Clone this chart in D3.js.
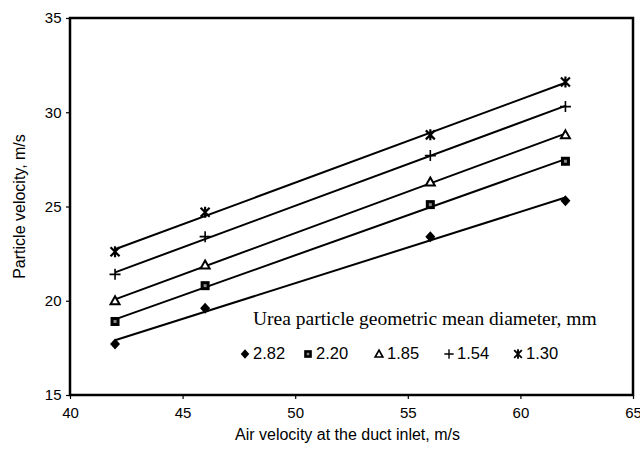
<!DOCTYPE html>
<html>
<head>
<meta charset="utf-8">
<script src="https://cdn.jsdelivr.net/npm/d3@7"></script>
<style>
  body { margin: 0; background: #fff; }
  text { font-family: "Liberation Sans", Arial, sans-serif; fill: #000; }
</style>
</head>
<body>
<div id="chart"></div>
<script>
// data
const airVelocity = [42, 46, 56, 62];
const diameters = ["2.82", "2.20", "1.85", "1.54", "1.30"];
const v282 = [17.7, 19.6, 23.4, 25.3];
const v220 = [18.9, 20.8, 25.1, 27.4];
const v185 = [20.0, 21.9, 26.3, 28.8];
const v154 = [21.4, 23.4, 27.7, 30.3];
const v130 = [22.6, 24.7, 28.8, 31.6];
const xTicks = [40, 45, 50, 55, 60, 65];
const yTicks = [15, 20, 25, 30, 35];

const seriesValues = [v282, v220, v185, v154, v130];
const markers = ["diamond", "square", "triangle", "plus", "star"];

const W = 640, H = 451;
const margin = { top: 18, right: 7, bottom: 56, left: 70 };
const width = W - margin.left - margin.right,
  height = H - margin.top - margin.bottom;

const svg = d3.select("#chart").append("svg")
  .attr("width", W).attr("height", H);
const g = svg.append("g")
  .attr("transform", "translate(" + margin.left + "," + margin.top + ")");

let x = d3.scaleLinear().domain([40, 65]).range([0, width]);
let y = d3.scaleLinear().domain([15, 35]).range([height, 0]);

// axes
g.append("g")
  .attr("transform", "translate(0," + height + ")")
  .call(d3.axisBottom(x).tickValues(xTicks).tickSize(4).tickSizeOuter(0))
  .call(a => a.select(".domain").remove())
  .selectAll("text").attr("dy", "1.05em").style("font-size", "15px");
g.append("g")
  .call(d3.axisLeft(y).tickValues(yTicks).tickSize(4).tickSizeOuter(0))
  .call(a => a.select(".domain").remove())
  .selectAll("text").attr("dx", "-0.1em").style("font-size", "15px");
g.selectAll(".tick line").attr("stroke-width", 1.2);

// frame
g.append("rect")
  .attr("width", width).attr("height", height)
  .attr("fill", "none").attr("stroke", "#000").attr("stroke-width", 2.5);

// linear trend lines (least squares through each series)
function fit(vals) {
  const mx = d3.mean(airVelocity), my = d3.mean(vals);
  let sxy = 0, sxx = 0;
  airVelocity.forEach((xv, i) => { sxy += (xv - mx) * (vals[i] - my); sxx += (xv - mx) * (xv - mx); });
  const b = sxy / sxx;
  return xv => my + b * (xv - mx);
}
const xEnds = d3.extent(airVelocity);
seriesValues.forEach(vals => {
  const f = fit(vals);
  g.append("line")
    .attr("x1", x(xEnds[0])).attr("y1", y(f(xEnds[0])))
    .attr("x2", x(xEnds[1])).attr("y2", y(f(xEnds[1])))
    .attr("stroke", "#000").attr("stroke-width", 2);
});

// marker drawing
function drawMarker(sel, type, cx, cy, k) {
  k = k || 1;
  const m = sel.append("g").attr("transform", "translate(" + cx + "," + cy + ") scale(" + k + ")");
  if (type === "diamond") {
    m.append("path").attr("d", "M0,-5.5L5,0L0,5.5L-5,0Z").attr("fill", "#000");
  } else if (type === "square") {
    m.append("rect").attr("x", -4.5).attr("y", -4.5).attr("width", 9).attr("height", 9).attr("fill", "#000");
    m.append("rect").attr("x", -1.5).attr("y", -1.5).attr("width", 3).attr("height", 3).attr("fill", "#888");
  } else if (type === "triangle") {
    m.append("path").attr("d", "M0,-4.5L4.5,3.5L-4.5,3.5Z").attr("fill", "#fff")
      .attr("stroke", "#000").attr("stroke-width", 2);
  } else if (type === "plus") {
    m.append("path").attr("d", "M-5.5,0H5.5M0,-5.5V5.5").attr("stroke", "#000").attr("stroke-width", 1.6);
  } else {
    m.append("path").attr("d", "M-4.5,-4.5L4.5,4.5M4.5,-4.5L-4.5,4.5M0,-5.5V5.5")
      .attr("stroke", "#000").attr("stroke-width", 2.2);
  }
}

seriesValues.forEach((vals, s) => {
  vals.forEach((v, i) => drawMarker(g, markers[s], x(airVelocity[i]), y(v)));
});

// legend
svg.append("text")
  .attr("x", 253).attr("y", 325)
  .style("font-family", "'Liberation Serif', 'Times New Roman', serif")
  .style("font-size", "19.5px")
  .text("Urea particle geometric mean diameter, mm");
const legendX = [245, 308, 379, 449, 518];
diameters.forEach((d, i) => {
  drawMarker(svg, markers[i], legendX[i], 354, 0.85);
  svg.append("text")
    .attr("x", legendX[i] + 8).attr("y", 359)
    .style("font-size", "16.5px")
    .text(d);
});

// axis titles
svg.append("text")
  .attr("x", margin.left + width / 2 - 4).attr("y", 440)
  .attr("text-anchor", "middle").style("font-size", "16px")
  .text("Air velocity at the duct inlet, m/s");
svg.append("text")
  .attr("transform", "translate(25," + (margin.top + height / 2) + ") rotate(-90)")
  .attr("text-anchor", "middle").style("font-size", "16px")
  .text("Particle velocity, m/s");
</script>
</body>
</html>
